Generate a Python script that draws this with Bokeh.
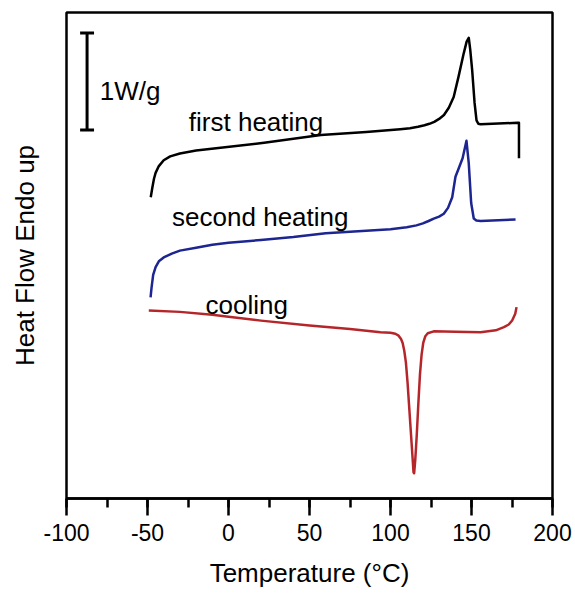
from bokeh.plotting import figure
from bokeh.models import Range1d, SingleIntervalTicker, FixedTicker
from bokeh.core.properties import value
from bokeh.embed import file_html
from bokeh.resources import INLINE

# ---- data ----
first_T = [-48.0, -47.0, -46.0, -45.0, -43.0, -40.0, -36.0, -30.0, -20.0, -9.0, 22.0, 57.0, 85.0,
           106.0, 112.0, 117.0, 121.0, 124.0, 127.0, 130.0, 133.0, 136.0, 139.0, 142.0, 145.2,
           147.0, 148.3, 149.2, 150.4, 151.9, 153.1, 154.2, 155.6, 178.5, 179.3, 179.3]
first_HF = [3.10, 3.20, 3.29, 3.35, 3.42, 3.48, 3.52, 3.55, 3.58, 3.60, 3.66, 3.74, 3.77,
            3.80, 3.81, 3.825, 3.84, 3.855, 3.875, 3.905, 3.945, 4.02, 4.13, 4.34, 4.58,
            4.70, 4.74, 4.62, 4.41, 4.07, 3.89, 3.855, 3.85, 3.866, 3.866, 3.50]

second_T = [-48.1, -47.5, -46.5, -45.0, -43.0, -40.0, -35.0, -30.0, -20.0, -10.0, 0.0, 20.0, 40.0,
            60.0, 80.0, 100.0, 110.0, 116.0, 120.0, 123.5, 126.7, 130.0, 132.9, 135.5, 138.1,
            140.1, 142.2, 144.5, 146.9, 148.3, 149.8, 151.4, 153.0, 155.6, 177.2]
second_HF = [2.07, 2.17, 2.30, 2.38, 2.44, 2.48, 2.52, 2.55, 2.58, 2.61, 2.63, 2.66, 2.69,
             2.73, 2.75, 2.77, 2.79, 2.81, 2.83, 2.855, 2.88, 2.90, 2.93, 2.99, 3.10,
             3.31, 3.40, 3.50, 3.68, 3.45, 3.04, 2.88, 2.86, 2.856, 2.87]

cool_T = [-49.2, -30.0, -10.0, 0.0, 20.0, 50.0, 75.0, 93.8, 100.0, 103.0, 105.0, 106.5, 107.5,
          108.5, 109.5, 110.5, 111.5, 112.5, 113.5, 114.2, 114.6, 115.3, 116.2, 117.2, 118.2,
          119.2, 120.2, 121.5, 123.0, 126.7, 140.0, 155.6, 165.0, 170.0, 173.0, 175.1, 177.0,
          177.8]
cool_HF = [1.935, 1.92, 1.89, 1.87, 1.83, 1.78, 1.745, 1.711, 1.705, 1.695, 1.675, 1.64, 1.60,
           1.52, 1.40, 1.20, 0.95, 0.70, 0.45, 0.27, 0.26, 0.40, 0.65, 0.98, 1.28,
           1.48, 1.60, 1.67, 1.70, 1.72, 1.715, 1.711, 1.73, 1.763, 1.79, 1.832, 1.90,
           1.969]

curve_names = ["first heating", "second heating", "cooling"]
scale_bar_label = "1W/g"
x_label = "Temperature (°C)"
y_label = "Heat Flow Endo up"
x_tick_labels = {-100: "-100", -50: "-50", 0: "0", 50: "50", 100: "100", 150: "150", 200: "200"}

FONT = "Liberation Sans"

p = figure(width=575, height=597, output_backend="svg", toolbar_location=None,
           x_range=Range1d(-100, 200), y_range=Range1d(0, 5),
           min_border_left=66, min_border_right=23, min_border_top=12, min_border_bottom=99)
p.background_fill_color = "white"
p.border_fill_color = "white"
p.grid.visible = False
p.outline_line_color = "black"
p.outline_line_width = 2.5

# x axis
xa = p.xaxis[0]
xa.ticker = SingleIntervalTicker(interval=50, num_minor_ticks=2)
xa.major_label_overrides = x_tick_labels
xa.axis_line_width = 2.5
xa.major_tick_line_width = 2.5
xa.minor_tick_line_width = 2.5
xa.major_tick_out = 17
xa.major_tick_in = 0
xa.minor_tick_out = 9
xa.minor_tick_in = 0
xa.major_label_text_font = FONT
xa.major_label_text_font_size = "23px"
xa.major_label_text_color = "black"
xa.major_label_standoff = 8
xa.axis_label = x_label
xa.axis_label_text_font = FONT
xa.axis_label_text_font_size = "26px"
xa.axis_label_text_font_style = "normal"
xa.axis_label_text_color = "black"
xa.axis_label_standoff = 14

# y axis: title only, no ticks
ya = p.yaxis[0]
ya.ticker = FixedTicker(ticks=[])
ya.axis_line_color = None
ya.major_tick_line_color = None
ya.minor_tick_line_color = None
ya.major_tick_out = 0
ya.major_label_standoff = 0
ya.axis_label = y_label
ya.axis_label_text_font = FONT
ya.axis_label_text_font_size = "26px"
ya.axis_label_text_font_style = "normal"
ya.axis_label_text_color = "black"
ya.axis_label_standoff = 27

# curves
p.line(first_T, first_HF, line_color="black", line_width=2.5, line_join="round")
p.line(second_T, second_HF, line_color="#1c2590", line_width=2.5, line_join="round")
p.line(cool_T, cool_HF, line_color="#b5262b", line_width=2.5, line_join="round")

# scale bar (1 W/g)
p.segment(x0=[-87.3, -91.6, -91.6], y0=[3.79, 3.79, 4.79], x1=[-87.3, -83.0, -83.0],
          y1=[4.79, 3.79, 4.79], line_color="black", line_width=3)

# texts
p.text(x=[-79.4], y=[4.196], text=[scale_bar_label], text_font=value(FONT),
       text_font_size="26px", text_color="black", text_baseline="alphabetic", text_align="left")
p.text(x=[-24.5, -34.8, -14.2], y=[3.876, 2.897, 1.987], text=curve_names, text_font=value(FONT),
       text_font_size="26px", text_color="black", text_baseline="alphabetic", text_align="left")

open("out.html", "w").write(file_html(p, INLINE))
